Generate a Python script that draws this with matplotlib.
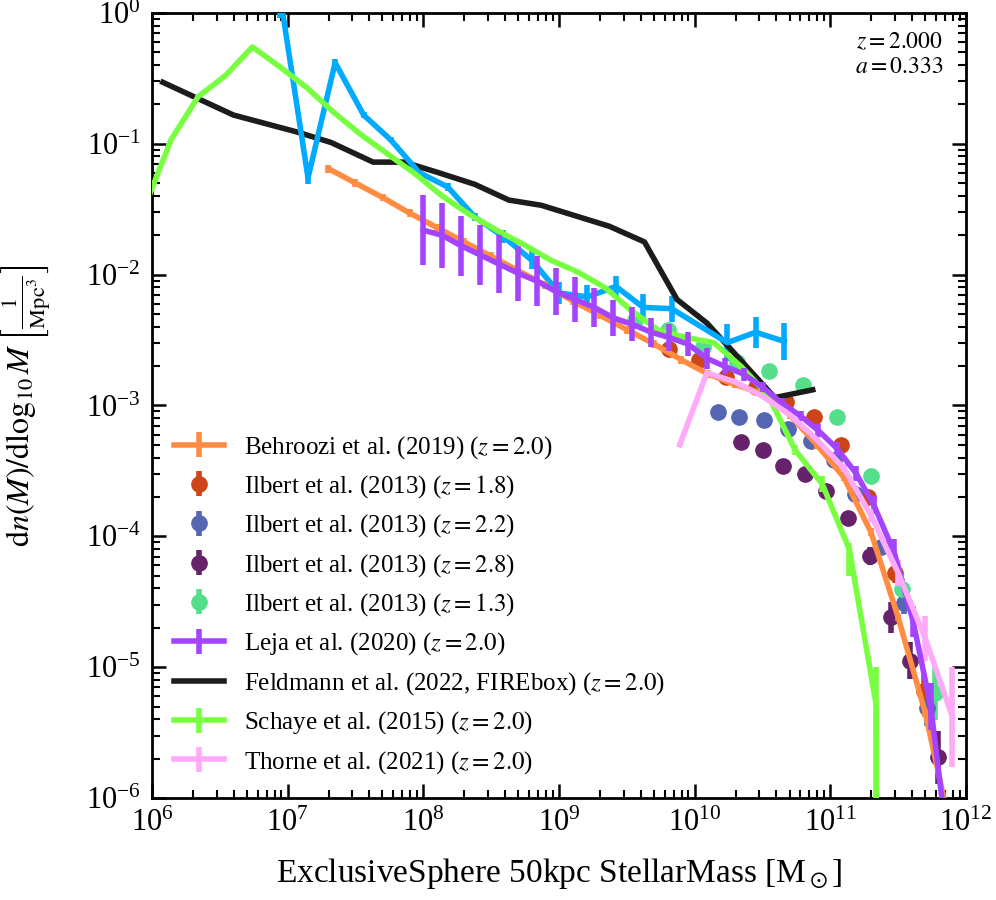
import numpy as np
import matplotlib
matplotlib.use("Agg")
import matplotlib.pyplot as plt

plt.rcParams["font.family"] = ["Liberation Serif", "DejaVu Serif"]
plt.rcParams["mathtext.fontset"] = "stix"
plt.rcParams["axes.linewidth"] = 2.0
plt.rcParams["lines.linewidth"] = 4.0

# all y values stored as log10(dn/dlogM), x as log10(M)
# simulation (no label)
sim_logm = [6.94, 7.15, 7.35, 7.56, 7.76, 7.97, 8.18, 8.38, 8.59, 8.80, 9.00,
            9.21, 9.42, 9.62, 9.83, 10.24, 10.45, 10.66]
sim_logphi = [0.16, -1.26, -0.38, -0.78, -0.97, -1.22, -1.33, -1.56, -1.71, -1.89,
              -2.14, -2.17, -2.09, -2.25, -2.26, -2.52, -2.44, -2.51]
sim_err = [0.2, 0.05, 0.03, 0.02, 0.02, 0.02, 0.03, 0.03, 0.05, 0.07, 0.085,
           0.09, 0.08, 0.1, 0.1, 0.14, 0.12, 0.14]

behroozi_logm = [7.3, 7.5, 7.7, 7.9, 8.1, 8.3, 8.5, 8.7, 8.9, 9.1, 9.3, 9.5, 9.7,
                 9.9, 10.1, 10.3, 10.5, 10.7, 10.9, 11.1, 11.3, 11.5, 11.7, 11.9]
behroozi_logphi = [-1.19, -1.30, -1.41, -1.53, -1.64, -1.75, -1.86, -1.97, -2.08,
                   -2.20, -2.31, -2.42, -2.53, -2.65, -2.76, -2.84, -2.91, -3.07,
                   -3.30, -3.55, -3.97, -4.62, -5.35, -6.30]
behroozi_err = [0.03] * 24

ilbert18_logm = [9.81, 10.03, 10.23, 10.45, 10.67, 10.88, 11.08, 11.28, 11.48, 11.69]
ilbert18_logphi = [-2.57, -2.65, -2.78, -2.86, -2.97, -3.09, -3.30, -3.70, -4.28, -5.18]
ilbert18_err = [0.01, 0.01, 0.01, 0.01, 0.02, 0.02, 0.03, 0.05, 0.08, 0.12]

ilbert22_logm = [10.17, 10.33, 10.51, 10.69, 10.86, 11.03, 11.18, 11.37, 11.54, 11.71]
ilbert22_logphi = [-3.05, -3.09, -3.11, -3.18, -3.27, -3.42, -3.68, -4.08, -4.51, -5.31]
ilbert22_err = [0.01, 0.01, 0.01, 0.01, 0.02, 0.02, 0.03, 0.05, 0.08, 0.14]

ilbert28_logm = [10.34, 10.50, 10.65, 10.81, 10.97, 11.13, 11.29, 11.45, 11.59, 11.79]
ilbert28_logphi = [-3.28, -3.34, -3.46, -3.52, -3.65, -3.86, -4.15, -4.62, -4.95, -5.69]
ilbert28_err = [0.01, 0.01, 0.01, 0.02, 0.02, 0.04, 0.07, 0.12, 0.14, 0.2]

ilbert13_logm = [9.56, 9.80, 10.06, 10.31, 10.55, 10.80, 11.05, 11.30, 11.53, 11.77]
ilbert13_logphi = [-2.35, -2.42, -2.55, -2.67, -2.74, -2.84, -3.09, -3.54, -4.40, -5.20]
ilbert13_err = [0.01, 0.01, 0.01, 0.01, 0.01, 0.02, 0.02, 0.04, 0.08, 0.2]

leja_logm = [8.00, 8.14, 8.28, 8.42, 8.56, 8.70, 8.84, 8.98, 9.12, 9.26, 9.40, 9.54,
             9.68, 9.81, 9.95, 10.09, 10.22, 10.36, 10.50, 10.64, 10.78, 10.91,
             11.05, 11.19, 11.32, 11.47, 11.61, 11.74, 11.88]
leja_logphi = [-1.66, -1.70, -1.78, -1.85, -1.92, -1.99, -2.05, -2.13, -2.19, -2.25,
               -2.33, -2.38, -2.44, -2.48, -2.53, -2.64, -2.70, -2.76, -2.86, -2.98,
               -3.08, -3.19, -3.33, -3.52, -3.76, -4.12, -4.65, -5.30, -6.50]
leja_err = [0.27, 0.25, 0.23, 0.23, 0.22, 0.21, 0.19, 0.18, 0.17, 0.15, 0.14, 0.13,
            0.11, 0.10, 0.09, 0.08, 0.06, 0.05, 0.04, 0.04, 0.04, 0.05, 0.05, 0.06,
            0.07, 0.10, 0.12, 0.18, 0.30]

feldmann_logm = [6.08, 6.60, 7.07, 7.32, 7.63, 7.86, 8.11, 8.38, 8.63, 8.87, 9.12,
                 9.37, 9.63, 9.87, 10.09, 10.31, 10.59, 10.87]
feldmann_logphi = [-0.53, -0.78, -0.91, -0.99, -1.14, -1.14, -1.22, -1.31, -1.43,
                   -1.47, -1.55, -1.63, -1.75, -2.19, -2.37, -2.62, -2.94, -2.88]

schaye_logm = [5.94, 6.14, 6.34, 6.54, 6.74, 6.94, 7.14, 7.34, 7.54, 7.74, 7.94,
               8.14, 8.34, 8.54, 8.74, 8.94, 9.14, 9.34, 9.54, 9.74, 9.94, 10.14,
               10.34, 10.54, 10.74, 10.94, 11.14, 11.34]
schaye_logphi = [-1.50, -0.97, -0.64, -0.48, -0.26, -0.41, -0.57, -0.76, -0.93, -1.08,
                 -1.23, -1.40, -1.54, -1.66, -1.77, -1.89, -1.98, -2.10, -2.28, -2.43,
                 -2.48, -2.52, -2.70, -2.92, -3.34, -3.60, -4.10, -5.30]
schaye_err_lo = [0.01] * 24 + [0.04, 0.06, 0.2, 3.0]
schaye_err_hi = [0.01] * 24 + [0.04, 0.06, 0.05, 0.3]
schaye_last_m = 11.54  # empty bin, phi = 0

thorne_logm = [9.89, 10.09, 10.30, 10.50, 10.70, 10.90, 11.10, 11.30, 11.50, 11.70, 11.90]
thorne_logphi = [-3.30, -2.75, -2.82, -2.93, -3.07, -3.26, -3.48, -3.84, -4.28, -4.78, -5.38]
thorne_err = [0.01, 0.01, 0.01, 0.01, 0.02, 0.02, 0.03, 0.05, 0.1, 0.17, 0.38]


def to_lin(logm, logphi, err_lo, err_hi=None):
    if err_hi is None:
        err_hi = err_lo
    m = np.power(10.0, np.array(logm))
    phi = np.power(10.0, np.array(logphi))
    lo = phi * (1 - np.power(10.0, -np.array(err_lo)))
    hi = phi * (np.power(10.0, np.array(err_hi)) - 1)
    return m, phi, [lo, hi]


fig = plt.figure(figsize=(9.96, 9.0), dpi=100)
ax = fig.add_axes([0.1526, 0.1133, 0.8173, 0.8723])
ax.set_xscale("log")
ax.set_yscale("log")

handles = []

m, phi, e = to_lin(sim_logm, sim_logphi, sim_err)
ax.errorbar(m, phi, yerr=e, color="#00aaff", lw=4, zorder=3)

m, phi, e = to_lin(behroozi_logm, behroozi_logphi, behroozi_err)
handles.append(ax.errorbar(m, phi, yerr=e, color="#ff8c40", lw=4, zorder=4,
                           label=r"Behroozi et al. (2019) ($z=2.0$)"))

ilbert = [
    (ilbert18_logm, ilbert18_logphi, ilbert18_err, "#cc4418", "1.8"),
    (ilbert22_logm, ilbert22_logphi, ilbert22_err, "#5566b3", "2.2"),
    (ilbert28_logm, ilbert28_logphi, ilbert28_err, "#66226a", "2.8"),
    (ilbert13_logm, ilbert13_logphi, ilbert13_err, "#55df8d", "1.3"),
]
for lm, lp, le, col, zz in ilbert:
    m, phi, e = to_lin(lm, lp, le)
    handles.append(ax.errorbar(m, phi, yerr=e, fmt="o", color=col, ms=11,
                               elinewidth=4, zorder=2,
                               label=r"Ilbert et al. (2013) ($z=%s$)" % zz))

m, phi, e = to_lin(leja_logm, leja_logphi, leja_err)
handles.append(ax.errorbar(m, phi, yerr=e, color="#a444ff", lw=4, zorder=5,
                           label=r"Leja et al. (2020) ($z=2.0$)"))

line, = ax.plot(np.power(10.0, feldmann_logm), np.power(10.0, feldmann_logphi),
                color="#1c1c1c", lw=4, zorder=3,
                label=r"Feldmann et al. (2022, FIREbox) ($z=2.0$)")
handles.append(line)

m, phi, e = to_lin(schaye_logm, schaye_logphi, schaye_err_lo, schaye_err_hi)
m = np.append(m, 10.0 ** schaye_last_m)
phi = np.append(phi, 0.0)
e = [np.append(e[0], 0.0), np.append(e[1], 0.0)]
handles.append(ax.errorbar(m, phi, yerr=e, color="#77ff40", lw=4, zorder=4,
                           label=r"Schaye et al. (2015) ($z=2.0$)"))

m, phi, e = to_lin(thorne_logm, thorne_logphi, thorne_err)
handles.append(ax.errorbar(m, phi, yerr=e, color="#ffaaf8", lw=4, zorder=5,
                           label=r"Thorne et al. (2021) ($z=2.0$)"))

ax.set_xlim(1e6, 1e12)
ax.set_ylim(1e-6, 1e0)

ax.tick_params(which="both", direction="in", top=True, right=True, labelsize=22)
ax.tick_params(which="major", length=10, width=1.8, pad=8)
ax.tick_params(which="minor", length=5.5, width=1.5)

ax.set_xlabel(r"ExclusiveSphere 50kpc StellarMass [M$_\odot$]", fontsize=24,
              labelpad=13)
ax.set_ylabel(r"$\mathrm{d}n(M)/\mathrm{d}\log_{10}M\;\left[\frac{1}{\mathrm{Mpc}^3}\right]$",
              fontsize=23)
ax.yaxis.set_label_coords(-0.122, 0.5)

ax.text(0.972, 0.976, "$z=2.000$\n$a=0.333$", transform=ax.transAxes,
        ha="right", va="top", fontsize=17, linespacing=1.25)

ax.legend(handles=handles, labels=[h.get_label() for h in handles],
          loc="lower left", frameon=False, fontsize=18)

fig.savefig("out.png", dpi=100)
